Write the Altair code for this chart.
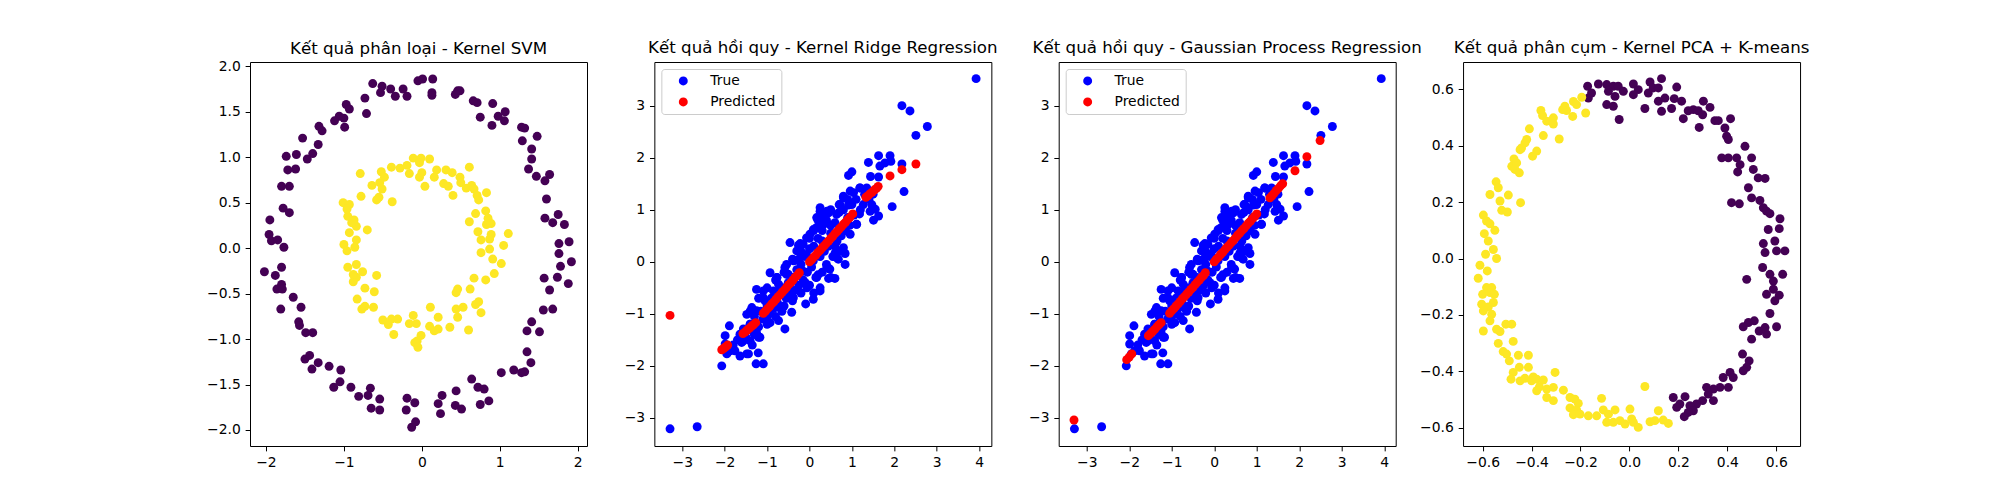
import altair as alt
import pandas as pd

# ---------------- Panel 1: Kernel SVM (circles) ----------------
svm_out_x = [-0.05,0.01,0.14,-0.63,-0.51,-0.53,-0.40,-0.24,-0.34,-0.19,0.13,0.13,-0.73,-0.71,-0.97,-0.93,-1.06,-1.12,-1.00,-0.99,
             -1.32,-1.28,-1.53,-1.33,-1.40,-1.47,-1.74,-1.61,-1.62,-1.72,-1.80,-1.70,-1.78,-1.70,-1.95,-1.96,-1.93,-1.85,-1.77,-2.02,
             -1.80,-1.88,-1.80,-1.86,-1.79,-1.81,-1.65,-1.55,-1.58,-1.57,-1.49,-1.40,-1.50,-1.44,-1.41,-1.33,-1.19,-1.04,-1.13,-1.05,
             -0.91,-0.81,-0.69,-0.66,-0.54,-0.65,-0.54,-0.19,-0.09,-0.20,-0.13,-0.08,0.21,0.26,0.24,0.44,0.43,0.51,0.64,0.72,
             0.80,0.75,0.86,1.02,1.18,1.28,1.32,1.35,1.40,1.35,1.51,1.41,1.56,1.68,1.57,1.64,1.74,1.78,1.88,1.92,
             1.76,1.76,1.89,1.68,1.75,1.83,1.58,1.60,1.64,1.58,1.47,1.37,1.41,1.41,1.48,1.29,1.28,1.32,1.07,0.98,
             0.91,0.90,1.06,0.75,0.71,0.66,0.46,0.49,0.43]
svm_out_y = [1.84,1.86,1.86,1.81,1.78,1.71,1.75,1.75,1.67,1.67,1.71,1.68,1.65,1.48,1.58,1.53,1.45,1.40,1.43,1.33,
             1.34,1.29,1.21,1.14,1.04,0.98,1.01,1.03,0.87,0.86,0.68,0.68,0.44,0.39,0.31,0.15,0.08,0.09,0.01,-0.26,
             -0.21,-0.30,-0.40,-0.45,-0.45,-0.67,-0.54,-0.65,-0.81,-0.85,-0.93,-0.93,-1.22,-1.18,-1.33,-1.26,-1.30,-1.34,-1.53,-1.47,
             -1.53,-1.63,-1.62,-1.54,-1.66,-1.76,-1.78,-1.65,-1.70,-1.78,-1.97,-1.91,-1.71,-1.62,-1.82,-1.57,-1.73,-1.77,-1.44,-1.53,
             -1.55,-1.72,-1.68,-1.37,-1.34,-1.37,-1.36,-1.14,-1.26,-0.91,-0.92,-0.81,-0.68,-0.67,-0.33,-0.46,-0.32,-0.20,-0.39,-0.15,
             -0.06,0.05,0.07,0.28,0.37,0.26,0.33,0.54,0.81,0.74,0.79,0.87,0.98,1.09,1.23,1.18,1.33,1.32,1.50,1.45,
             1.59,1.35,1.40,1.44,1.60,1.62,1.73,1.73,1.69]
svm_in_x = [-0.79,-0.64,-0.52,-0.48,-0.54,-0.51,-0.39,-0.28,-0.19,-0.11,-0.01,0.10,-0.03,0.00,-0.16,-0.03,0.04,0.19,0.16,0.31,
            0.39,0.28,0.34,0.40,0.49,0.50,0.61,0.57,0.64,0.67,0.71,0.73,0.83,0.82,0.69,0.72,0.76,0.61,0.85,0.83,
            0.89,0.89,0.87,1.11,1.05,0.87,0.76,0.91,1.02,0.93,0.82,0.67,0.62,0.46,0.44,0.73,0.69,0.76,0.44,0.53,
            0.46,0.60,0.36,0.21,0.11,0.21,0.16,0.10,-0.01,-0.06,-0.09,-0.05,-0.11,-0.07,-0.16,-0.31,-0.39,-0.36,-0.43,-0.50,
            -0.62,-0.73,-0.77,-0.83,-0.73,-0.61,-0.58,-0.76,-0.84,-0.88,-0.95,-0.88,-0.84,-1.00,-0.96,-0.93,-0.84,-0.86,-0.70,-0.84,
            -0.87,-0.90,-0.95,-1.01,-0.93,-0.96,-0.78,-0.38,-0.55,-0.58]
svm_in_y = [0.82,0.69,0.84,0.78,0.72,0.65,0.89,0.88,0.91,0.99,0.99,0.98,0.94,0.83,0.82,0.78,0.68,0.86,0.78,0.86,
            0.83,0.71,0.68,0.58,0.78,0.72,0.89,0.66,0.69,0.65,0.58,0.53,0.61,0.41,0.38,0.18,0.09,0.29,0.33,0.26,
            0.27,0.15,0.10,0.16,0.03,-0.01,-0.05,-0.12,-0.17,-0.28,-0.35,-0.33,-0.45,-0.45,-0.49,-0.59,-0.62,-0.71,-0.67,-0.65,
            -0.76,-0.90,-0.87,-0.76,-0.65,-0.89,-0.91,-0.86,-0.96,-1.02,-1.04,-1.09,-0.74,-0.83,-0.83,-0.78,-0.78,-0.95,-0.84,-0.79,
            -0.65,-0.64,-0.67,-0.56,-0.44,-0.48,-0.30,-0.26,-0.32,-0.37,-0.21,-0.29,-0.18,0.04,-0.03,0.17,0.09,0.01,0.20,0.24,
            0.31,0.28,0.35,0.50,0.48,0.43,0.57,0.51,0.56,0.53]

# ---------------- Panels 2 & 3: regression ----------------
true_x = [3.93,2.18,2.37,2.78,2.51,-3.29,-2.65,
          1.39,1.63,1.90,1.92,2.18,1.66,1.78,0.92,1.00,1.44,1.63,2.23,1.95,1.51,1.63,1.55,1.47,1.11,1.18,0.92,0.80,1.04,1.19,1.35,
          0.25,0.45,0.17,0.33,0.09,-0.07,-0.22,-0.46,-0.26,-0.34,-0.07,0.60,0.84,0.68,0.84,0.48,0.60,0.45,0.25,0.09,0.25,-0.09,
          -0.42,-0.58,-0.73,-0.93,-1.25,-1.21,-1.26,-1.09,-1.44,-1.64,-1.76,-1.89,-1.99,-2.07,-1.95,-1.99,-1.36,-1.25,-1.09,-0.93,
          -0.77,-0.58,-0.50,-0.73,-1.05,-1.48,-1.56,-1.40,-1.64,-1.60,
          -1.40,-1.30,-1.20,-1.15,-1.10,-1.00,-0.95,-0.90,-0.85,-0.80,-0.75,-0.70,-0.65,-0.60,-0.55,-0.50,-0.45,-0.40,-0.35,-0.30,
          -0.25,-0.20,-0.15,-0.10,-0.05,0.00,0.05,0.10,0.15,0.20,0.25,0.30,0.35,0.40,0.45,0.50,0.55,0.60,0.65,0.70,
          0.75,0.80,0.85,0.90,0.95,1.00,1.05,1.10,1.20,1.30,1.40,1.50,-1.30,-1.50,-1.70,-1.80,-1.35,-1.20,-1.00,-0.80,
          -0.60,-0.40,-0.20,0.00,0.20,0.40,0.60,0.20,0.00,-0.20,-0.40,-0.60,-0.80,-1.00,-1.20,-1.40,0.10,0.30,0.50,0.70,
          0.90,0.30,0.50,-0.10,0.10,0.30,0.50,0.70,
          0.01,0.25,0.41,0.72,0.80,0.96,1.19,-0.15,-0.30,-0.38,-0.54,-0.77,-0.85,-1.09,-1.25,-1.40,-1.01,-0.70,-0.38,-0.06,
          0.17,0.41,0.64,0.80,0.96,1.11,0.56,0.33,0.09,-0.15,-0.46,-0.62,-0.93,-1.33,-1.56,-1.17,-1.87,-1.48,0.25,0.64,
          1.27,1.43,0.17,-0.22,-0.54]
true_y = [3.52,3.00,2.90,2.60,2.43,-3.21,-3.17,
          1.91,2.04,2.04,1.93,1.88,1.84,1.90,1.66,1.73,1.64,1.63,1.35,1.06,0.80,0.88,1.01,1.10,0.72,0.92,1.09,1.26,1.33,1.42,1.42,
          0.97,0.94,0.85,0.72,0.62,0.46,0.35,0.37,0.32,0.03,0.14,0.16,0.16,0.05,-0.05,-0.14,-0.32,-0.32,-0.50,-0.72,-0.56,-0.81,
          -0.97,-1.29,-1.13,-1.17,-1.36,-1.75,-1.96,-1.96,-1.77,-1.81,-1.71,-1.23,-1.42,-2.00,-1.77,-1.58,-0.88,-0.53,-0.56,-0.21,
          -0.30,-0.11,-0.24,-0.43,-0.75,-1.01,-1.29,-1.52,-1.39,-1.55,
          -1.20,-1.05,-1.25,-0.95,-1.10,-0.85,-1.00,-0.70,-0.90,-0.60,-0.80,-0.55,-0.95,-0.50,-0.70,-0.40,-0.60,-0.30,-0.55,-0.15,
          -0.45,-0.05,-0.35,0.10,-0.20,0.25,-0.10,0.30,-0.30,0.45,0.10,0.60,0.20,0.80,0.30,0.55,0.10,0.75,0.40,0.95,
          0.50,1.00,0.60,0.85,0.70,1.10,0.90,1.20,1.00,1.30,1.20,1.30,-1.40,-1.45,-1.50,-1.60,-1.60,-1.45,-1.20,-1.05,
          -0.85,-0.75,-0.60,-0.45,-0.25,-0.05,0.30,0.80,0.45,0.20,0.05,-0.20,-0.35,-0.50,-0.70,-0.95,0.60,0.90,1.00,1.10,
          1.20,0.40,0.70,-0.40,-0.60,-0.20,-0.30,0.20,
          0.53,0.85,0.97,1.10,1.23,1.36,1.42,0.34,0.21,0.02,-0.24,-0.30,-0.56,-0.69,-0.94,-1.20,-1.07,-0.88,-0.69,-0.50,
          -0.30,-0.11,0.08,0.27,0.53,0.72,0.53,0.27,0.02,-0.18,-0.43,-0.56,-0.81,-1.33,-1.52,-1.45,-1.71,-1.77,1.04,0.91,
          1.10,0.97,0.66,0.08,-0.05]

krr_x = [-2.07,-2.03,-2.00,-1.97,-1.93,
         -1.57,-1.52,-1.47,-1.42,-1.37,-1.32,-1.27,
         -1.09,-1.04,-0.99,-0.94,-0.89,-0.84,-0.79,-0.74,-0.69,-0.64,-0.59,-0.54,-0.49,-0.44,-0.39,-0.34,-0.29,-0.24,
         0.00,0.05,0.10,0.15,0.20,0.25,0.30,0.35,0.40,0.45,0.50,0.55,0.60,0.65,0.70,0.75,0.80,0.85,0.90,0.95,1.02,
         1.33,1.38,1.43,1.48,1.53,1.58,1.62,
         1.90,2.18,2.51,-3.29]
krr_y = [-1.69,-1.67,-1.65,-1.63,-1.60,
         -1.38,-1.35,-1.31,-1.28,-1.24,-1.21,-1.17,
         -0.99,-0.95,-0.90,-0.86,-0.81,-0.77,-0.72,-0.67,-0.63,-0.58,-0.54,-0.49,-0.44,-0.40,-0.35,-0.30,-0.26,-0.21,
         0.00,0.04,0.09,0.13,0.18,0.22,0.27,0.31,0.36,0.40,0.45,0.49,0.54,0.58,0.63,0.67,0.72,0.76,0.81,0.85,0.92,
         1.24,1.27,1.31,1.34,1.38,1.41,1.45,
         1.65,1.77,1.88,-1.03]

gpr_x = [-2.06,-2.00,-1.94,
         -1.55,-1.50,-1.45,-1.40,-1.35,-1.30,-1.25,
         -1.05,-1.00,-0.95,-0.90,-0.85,-0.80,-0.75,-0.70,-0.65,-0.60,-0.55,-0.50,-0.45,-0.40,-0.35,-0.30,-0.25,-0.21,
         0.00,0.05,0.10,0.15,0.20,0.25,0.30,0.35,0.40,0.45,0.50,0.55,0.60,0.65,0.70,0.75,0.80,0.85,0.90,0.95,1.00,
         1.31,1.36,1.41,1.46,1.51,1.56,1.61,
         1.90,2.18,2.49,-3.30]
gpr_y = [-1.88,-1.83,-1.77,
         -1.42,-1.38,-1.34,-1.30,-1.25,-1.21,-1.17,
         -0.99,-0.94,-0.90,-0.85,-0.81,-0.76,-0.71,-0.67,-0.62,-0.58,-0.53,-0.49,-0.44,-0.39,-0.35,-0.30,-0.26,-0.21,
         0.00,0.05,0.09,0.14,0.18,0.23,0.28,0.32,0.37,0.41,0.46,0.51,0.55,0.60,0.64,0.69,0.74,0.78,0.83,0.87,0.92,
         1.23,1.27,1.32,1.37,1.41,1.46,1.50,
         1.75,2.02,2.33,-3.04]

# ---------------- Panel 4: Kernel PCA + K-means ----------------
kp_yel_x = [-0.195,-0.229,-0.216,-0.264,-0.257,-0.273,-0.232,-0.179,-0.362,-0.355,-0.338,-0.311,-0.311,-0.352,-0.287,-0.409,-0.420,-0.427,-0.441,-0.447,
            -0.379,-0.396,-0.472,-0.481,-0.461,-0.468,-0.450,-0.545,-0.536,-0.570,-0.495,-0.529,-0.445,-0.522,-0.499,-0.597,-0.584,-0.570,-0.550,-0.593,
            -0.577,-0.556,-0.588,-0.543,-0.611,-0.581,-0.618,-0.584,-0.563,-0.600,-0.570,-0.552,-0.604,-0.577,-0.556,-0.597,-0.563,-0.570,-0.597,-0.543,
            -0.505,-0.481,-0.529,-0.475,-0.536,-0.516,-0.502,-0.491,-0.454,-0.413,-0.475,-0.450,-0.413,-0.484,-0.447,-0.427,-0.393,-0.400,-0.379,-0.352,
            -0.368,-0.379,-0.338,-0.304,-0.311,-0.338,-0.311,-0.270,-0.243,-0.223,-0.209,-0.243,-0.216,-0.229,-0.202,-0.168,-0.134,-0.114,-0.107,-0.086,
            -0.093,-0.059,-0.066,-0.039,-0.018,0.002,0.009,0.036,0.016,0.063,0.084,0.104,0.118,0.138,0.159]
kp_yel_y = [0.572,0.557,0.546,0.540,0.525,0.528,0.504,0.516,0.525,0.507,0.487,0.499,0.477,0.436,0.424,0.460,0.422,0.410,0.392,0.386,
            0.381,0.363,0.353,0.327,0.339,0.316,0.304,0.272,0.251,0.227,0.225,0.204,0.198,0.171,0.165,0.154,0.133,0.123,0.100,0.088,
            0.062,0.032,0.015,0.000,-0.024,-0.044,-0.070,-0.103,-0.103,-0.127,-0.121,-0.127,-0.162,-0.172,-0.156,-0.186,-0.198,-0.221,-0.257,-0.251,
            -0.233,-0.233,-0.259,-0.294,-0.301,-0.330,-0.339,-0.363,-0.343,-0.343,-0.404,-0.386,-0.386,-0.428,-0.434,-0.425,-0.420,-0.434,-0.428,-0.431,
            -0.455,-0.469,-0.463,-0.404,-0.457,-0.493,-0.504,-0.467,-0.493,-0.499,-0.514,-0.530,-0.537,-0.554,-0.552,-0.558,-0.558,-0.496,-0.537,-0.552,
            -0.581,-0.537,-0.581,-0.575,-0.587,-0.534,-0.569,-0.599,-0.581,-0.454,-0.579,-0.575,-0.540,-0.573,-0.585]
kp_pur_x = [-0.171,-0.127,-0.168,-0.155,-0.093,-0.066,-0.086,-0.046,-0.025,-0.059,-0.093,-0.066,-0.042,0.016,0.036,0.016,0.084,0.077,0.097,0.118,
            0.131,0.118,0.145,0.063,0.131,0.172,0.193,0.183,0.213,0.220,0.240,0.261,0.281,0.299,0.302,0.329,0.285,0.349,0.363,0.390,
            0.413,0.397,0.404,0.472,0.377,0.404,0.438,0.452,0.442,0.499,0.486,0.506,0.526,0.554,0.499,0.533,0.547,0.560,0.574,0.417,
            0.449,0.615,0.567,0.612,0.547,0.554,0.594,0.601,0.635,0.544,0.574,0.588,0.626,0.479,0.560,0.588,0.612,0.594,0.574,0.510,
            0.486,0.465,0.530,0.560,0.554,0.601,0.499,0.462,0.489,0.479,0.465,0.411,0.424,0.383,0.370,0.404,0.343,0.322,0.315,0.343,
            0.299,0.274,0.247,0.227,0.206,0.193,0.179,0.261,0.240,0.224]
kp_pur_y = [0.611,0.619,0.569,0.587,0.617,0.611,0.593,0.611,0.593,0.575,0.546,0.540,0.493,0.619,0.599,0.581,0.626,0.587,0.605,0.605,
            0.638,0.558,0.569,0.532,0.522,0.532,0.608,0.567,0.558,0.496,0.524,0.528,0.524,0.510,0.558,0.536,0.465,0.489,0.489,0.463,
            0.496,0.434,0.422,0.398,0.357,0.357,0.357,0.333,0.307,0.357,0.251,0.316,0.286,0.284,0.215,0.206,0.180,0.168,0.159,0.198,
            0.194,0.141,0.103,0.106,0.053,0.021,0.062,0.027,0.027,-0.032,-0.056,-0.080,-0.056,-0.074,-0.127,-0.109,-0.130,-0.150,-0.195,-0.221,
            -0.227,-0.242,-0.257,-0.268,-0.245,-0.242,-0.286,-0.339,-0.363,-0.386,-0.398,-0.404,-0.422,-0.422,-0.457,-0.457,-0.463,-0.481,-0.457,-0.504,
            -0.504,-0.516,-0.522,-0.490,-0.516,-0.528,-0.493,-0.540,-0.546,-0.561]

TITLES = ["Kết quả phân loại - Kernel SVM",
          "Kết quả hồi quy - Kernel Ridge Regression",
          "Kết quả hồi quy - Gaussian Process Regression",
          "Kết quả phân cụm - Kernel PCA + K-means"]

PURPLE = "#440154"
YELLOW = "#fde725"
FONT = "DejaVu Sans"
W, H = 337, 384
PT = 100 / 72
DOT = 80


def cluster_df(px, py, yx, yy):
    return pd.DataFrame({
        "x": list(px) + list(yx),
        "y": list(py) + list(yy),
        "c": [PURPLE] * len(px) + [YELLOW] * len(yx),
    })


def reg_df(pred_x, pred_y):
    return pd.DataFrame({
        "x": list(true_x) + list(pred_x),
        "y": list(true_y) + list(pred_y),
        "s": ["True"] * len(true_x) + ["Predicted"] * len(pred_x),
    })


def title(t, off):
    return alt.TitleParams(t, font=FONT, fontSize=12 * PT, fontWeight="normal", color="black",
                           anchor="middle", frame="group", offset=off)


def axis(values, fmt):
    return alt.Axis(values=values, format=fmt, grid=False, domain=False, ticks=True,
                    tickSize=3.5 * PT, tickColor="black", tickWidth=1,
                    labelFont=FONT, labelFontSize=10 * PT, labelColor="black",
                    labelPadding=3.5 * PT, labelFlush=False, labelOverlap=False, title=None)


def cluster_chart(df, xd, yd, xv, xf, yv, yf, t, off):
    return alt.Chart(df).mark_circle(size=DOT, opacity=1).encode(
        x=alt.X("x:Q", scale=alt.Scale(domain=xd, nice=False, zero=False), axis=axis(xv, xf)),
        y=alt.Y("y:Q", scale=alt.Scale(domain=yd, nice=False, zero=False), axis=axis(yv, yf)),
        color=alt.Color("c:N", scale=None),
    ).properties(width=W, height=H, title=title(t, off))


def reg_chart(df, xd, t, off):
    return alt.Chart(df).mark_circle(size=DOT, opacity=1).encode(
        x=alt.X("x:Q", scale=alt.Scale(domain=xd, nice=False, zero=False),
                axis=axis([-3, -2, -1, 0, 1, 2, 3, 4], "d")),
        y=alt.Y("y:Q", scale=alt.Scale(domain=[-3.54, 3.84], nice=False, zero=False),
                axis=axis([-3, -2, -1, 0, 1, 2, 3], "d")),
        color=alt.Color("s:N", scale=alt.Scale(domain=["True", "Predicted"], range=["#0000ff", "#ff0000"]),
                        legend=alt.Legend(title=None, orient="top-left", offset=7, padding=5,
                                          rowPadding=6, symbolType="circle", symbolSize=DOT,
                                          symbolOffset=10, labelOffset=20,
                                          labelFont=FONT, labelFontSize=10 * PT, labelColor="black",
                                          strokeColor="#cccccc", fillColor="rgba(255,255,255,0.8)",
                                          cornerRadius=3, symbolStrokeWidth=0, symbolOpacity=1)),
    ).properties(width=W, height=H, title=title(t, off))


c1 = cluster_chart(cluster_df(svm_out_x, svm_out_y, svm_in_x, svm_in_y),
                   [-2.205, 2.12], [-2.176, 2.047], [-2, -1, 0, 1, 2], "d",
                   [-2.0, -1.5, -1.0, -0.5, 0.0, 0.5, 1.0, 1.5, 2.0], ".1f", TITLES[0], 1.5)
c2 = reg_chart(reg_df(krr_x, krr_y), [-3.66, 4.29], TITLES[1], 5)
c3 = reg_chart(reg_df(gpr_x, gpr_y), [-3.66, 4.27], TITLES[2], 5)
c4 = cluster_chart(cluster_df(kp_pur_x, kp_pur_y, kp_yel_x, kp_yel_y),
                   [-0.68, 0.697], [-0.665, 0.697], [-0.6, -0.4, -0.2, 0.0, 0.2, 0.4, 0.6], ".1f",
                   [-0.6, -0.4, -0.2, 0.0, 0.2, 0.4, 0.6], ".1f", TITLES[3], 5)

chart = alt.hconcat(c1, c2, c3, c4, spacing=67.35, bounds="flush").resolve_scale(
    x="independent", y="independent", color="independent"
).resolve_legend(color="independent").properties(
    padding={"left": 198, "top": 31, "right": 5, "bottom": 5}
).configure_view(stroke="black", strokeWidth=1)

chart.save("out.html", embed_options={"renderer": "svg", "actions": False})
